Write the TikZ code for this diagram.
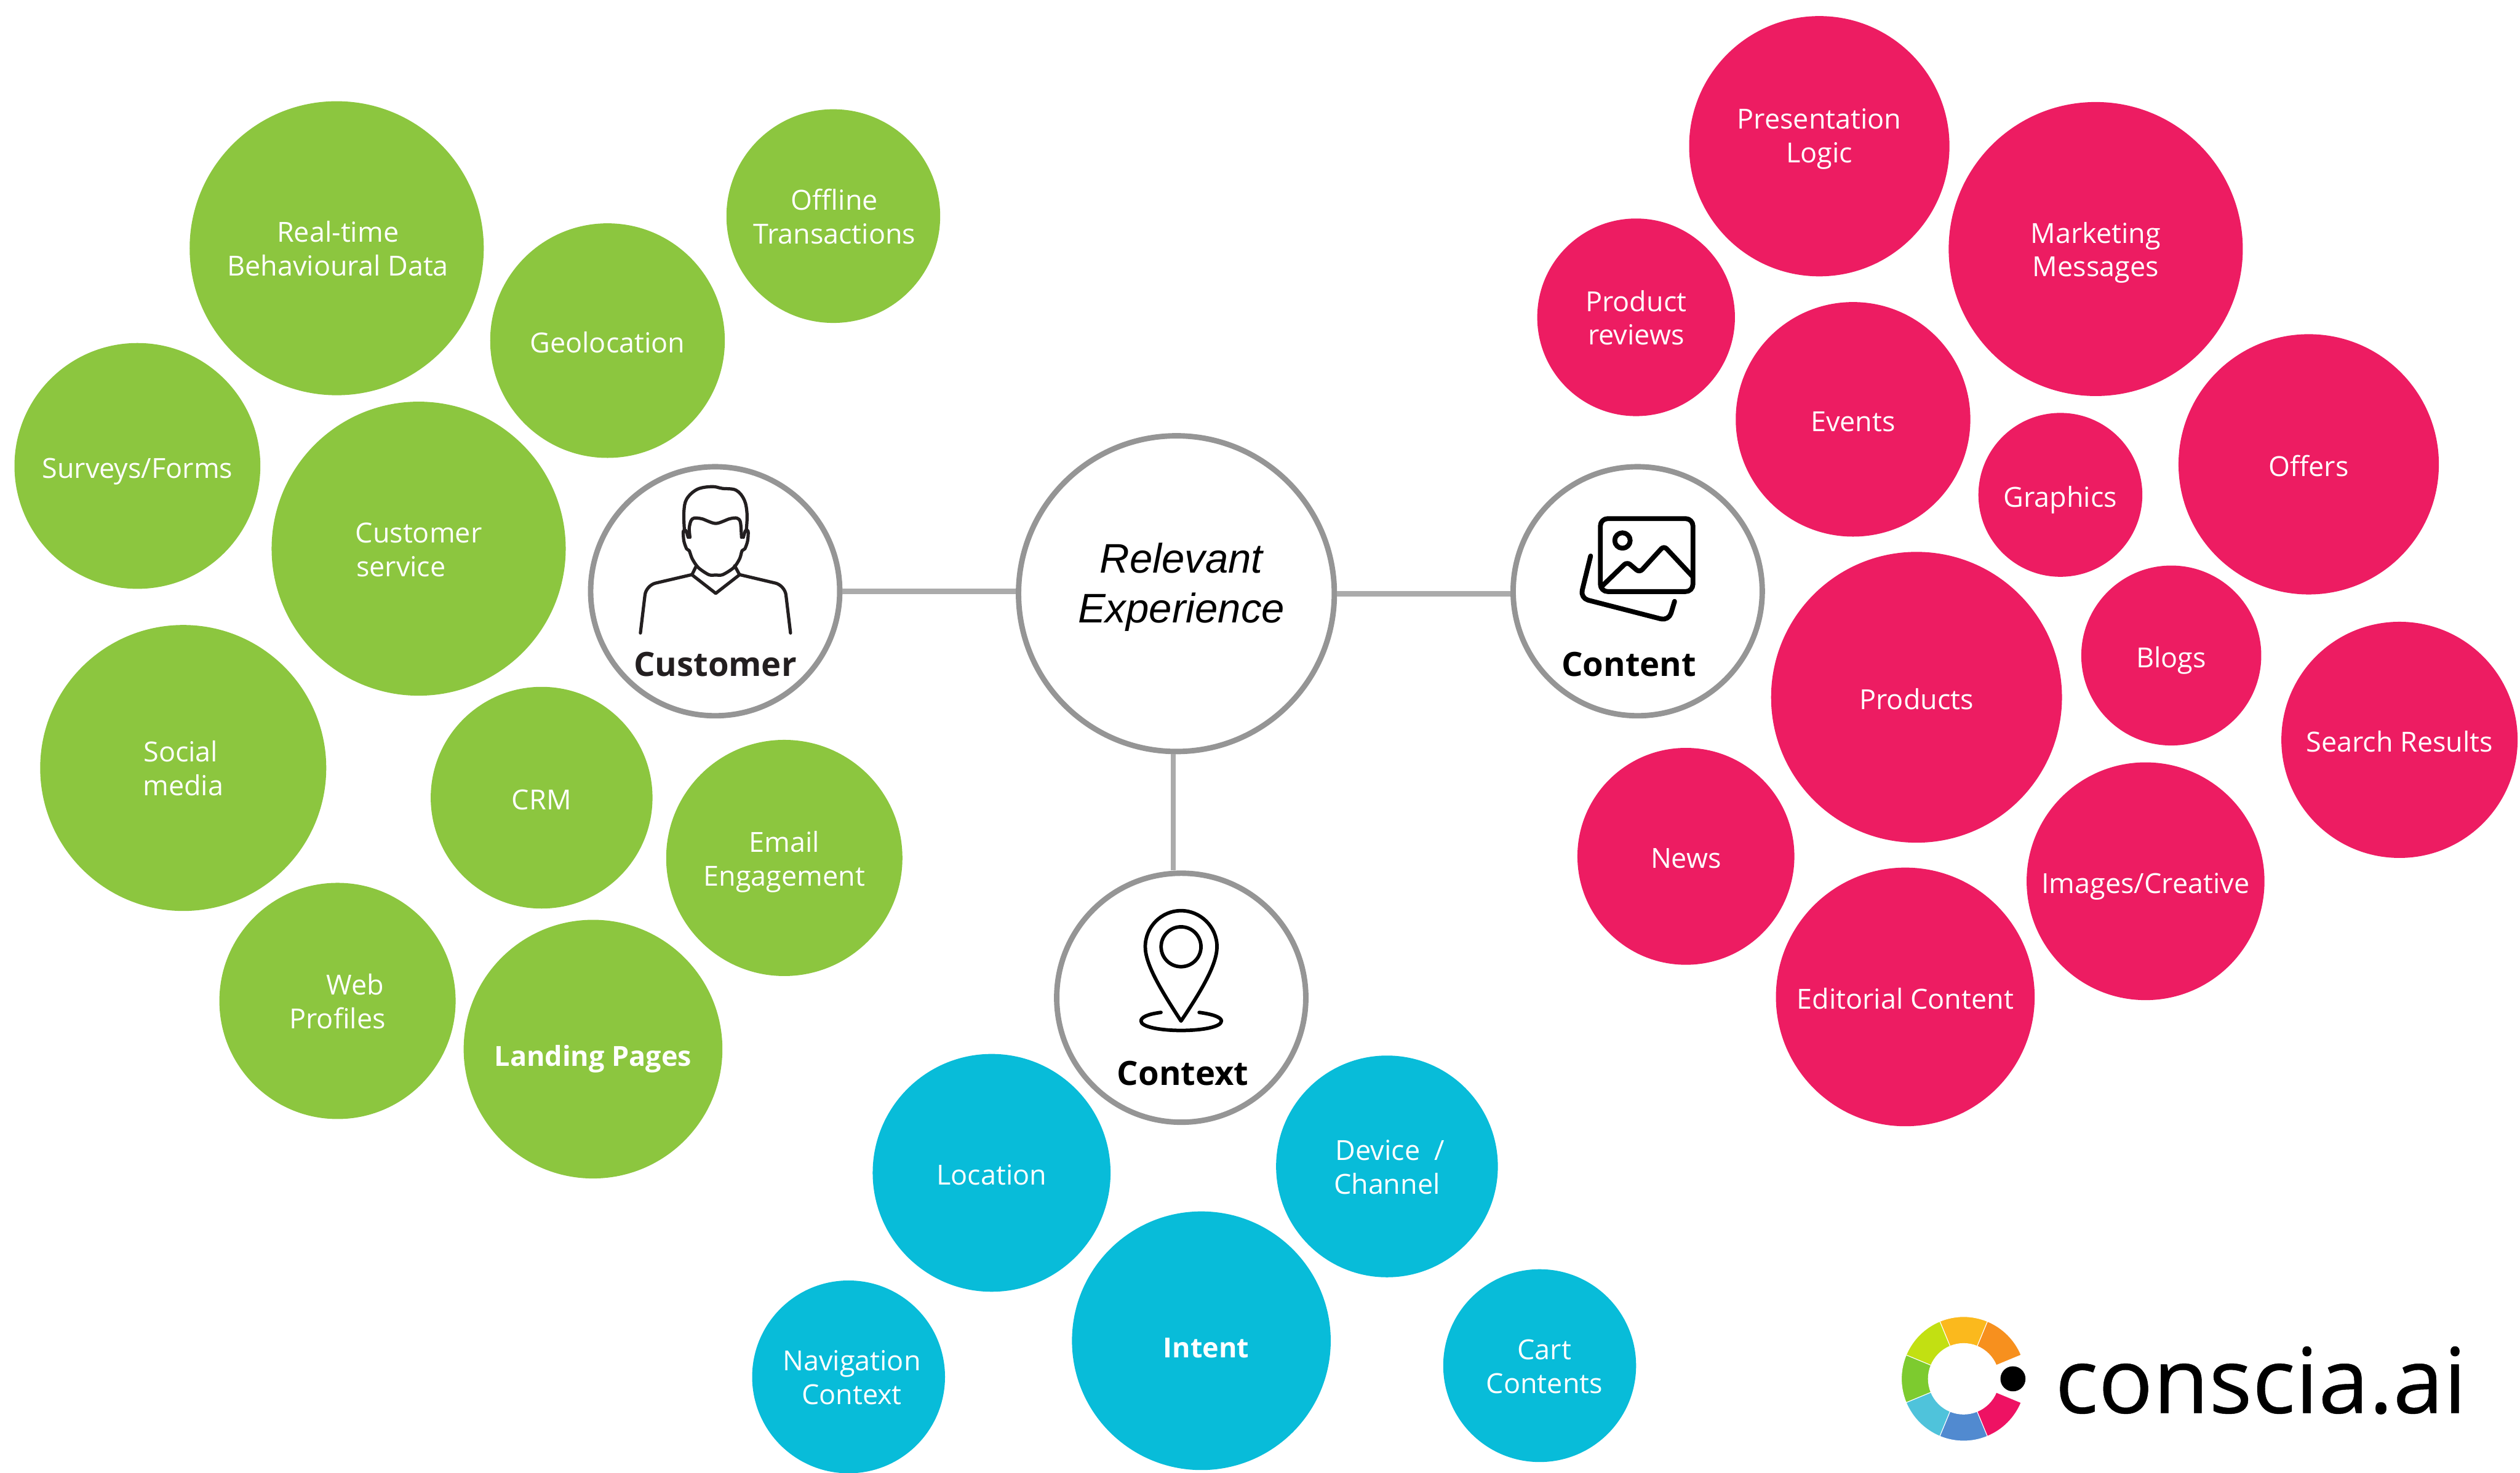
\documentclass[tikz,border=0pt]{standalone}
\usepackage{fontspec}
\setmainfont{Open Sans}
\newfontfamily\arialfont{Liberation Sans}
\newfontfamily\logofont[FakeBold=0.3]{Open Sans}
\definecolor{custgreen}{HTML}{8CC63F}
\definecolor{contred}{HTML}{ED1C62}
\definecolor{ctxblue}{HTML}{08BCD9}
\definecolor{ringgrey}{HTML}{959595}
\definecolor{spokegrey}{HTML}{ABABAB}
\definecolor{iconblack}{HTML}{231F20}
\definecolor{logoorange}{HTML}{F7901E}
\definecolor{logoyellow}{HTML}{FBB91D}
\definecolor{logolime}{HTML}{C2E012}
\definecolor{logogreen}{HTML}{7DCB2F}
\definecolor{logosky}{HTML}{4FC3DB}
\definecolor{logoblue}{HTML}{518AD0}
\definecolor{logopink}{HTML}{EE1263}
\usetikzlibrary{positioning}

\begin{document}
\begin{tikzpicture}[x=1pt, y=-1pt,
  bubble/.style={circle, inner sep=0pt, text=white, align=center, font=\fontsize{17.2}{21}\selectfont,
    text height=15pt, text depth=0pt},
  twolines/.style={text height=34.5pt},
  boldbubble/.style={font=\fontsize{17.2}{21}\bfseries\selectfont},
  greenbubble/.style={bubble, fill=custgreen},
  redbubble/.style={bubble, fill=contred},
  bluebubble/.style={bubble, fill=ctxblue},
  hub/.style={circle, draw=ringgrey, fill=white, line width=3.4pt, inner sep=0pt, minimum size=155pt},
  hublabel/.style={font=\fontsize{20.8}{25}\bfseries\selectfont, anchor=base},
  spoke/.style={draw=spokegrey, line width=3.4pt},
  icon/.style={line width=2pt, line cap=round, line join=round}]

\useasboundingbox (0,0) rectangle (1568,916.5);

% Customer bubbles (green, left side)
\node[greenbubble, twolines, minimum size=183pt] (realtime) at (209.5,154.5) {\hspace*{1.5pt}Real-time\\\hspace*{1.5pt}Behavioural Data};
\node[greenbubble, twolines, minimum size=133pt] (offline) at (518.5,134.5) {\hspace*{1.5pt}Offline\\\hspace*{1.5pt}Transactions};
\node[greenbubble, minimum size=146pt] (geolocation) at (378,212) {Geolocation};
\node[greenbubble, minimum size=153pt] (surveys) at (85.5,290) {Surveys/Forms};
\node[greenbubble, twolines, minimum size=183pt] (custservice) at (260.5,341.5) {Customer\\service\hspace*{22pt}};
\node[greenbubble, twolines, minimum size=178pt] (social) at (114,478) {Social\hspace*{3pt}\\media};
\node[greenbubble, minimum size=138pt] (crm) at (337,496.5) {CRM};
\node[greenbubble, twolines, minimum size=147pt] (email) at (488,534) {Email\\Engagement};
\node[greenbubble, twolines, minimum size=147pt] (webprofiles) at (210,623) {\hspace*{22pt}Web\\Profiles};
\node[greenbubble, boldbubble, text height=21pt, minimum size=161pt] (landing) at (369,653) {Landing Pages};

% Content bubbles (red, right side)
\node[redbubble, minimum size=162pt] (presentation) at (1132,91) {};
\node[redbubble, twolines, minimum size=183pt] (marketing) at (1304,155) {Marketing\\Messages};
\node[redbubble, twolines, minimum size=123pt] (reviews) at (1018,197.5) {Product\\reviews};
\node[redbubble, minimum size=146pt] (events) at (1153,261) {Events};
\node[redbubble, minimum size=102pt] (graphics) at (1282,308) {Graphics};
\node[redbubble, minimum size=162pt] (offers) at (1436.5,289) {Offers};
\node[redbubble, minimum size=181pt] (products) at (1192.5,434) {Products};
\node[redbubble, minimum size=112pt] (blogs) at (1351,408) {Blogs};
\node[redbubble, minimum size=147pt] (search) at (1493,460.5) {Search Results};
\node[redbubble, minimum size=135pt] (news) at (1049,533) {News};
\node[redbubble, minimum size=148pt] (images) at (1335,548.5) {Images/Creative};
\node[redbubble, minimum size=161pt] (editorial) at (1185.5,620.5) {Editorial Content};
\node[bubble, twolines] (presentationtext) at (1132,84) {Presentation\\Logic};

% Context bubbles (blue, bottom)
\node[bluebubble, minimum size=148pt] (location) at (617,730) {Location};
\node[bluebubble, twolines, minimum size=138pt] (device) at (863,726) {\hspace*{4pt}Device~~/\\Channel};
\node[bluebubble, minimum size=161pt] (intent) at (747.5,834.5) {};
\node[bluebubble, twolines, minimum size=120pt] (navigation) at (528,857) {\hspace*{4pt}Navigation\\\hspace*{4pt}Context};
\node[bluebubble, twolines, minimum size=120pt] (cart) at (958,850) {\hspace*{6pt}Cart\\\hspace*{6pt}Contents};
\node[bubble, boldbubble] (intenttext) at (750.5,837.5) {Intent};

% Centre and the three hubs
\node[hub, minimum size=196.5pt] (relevant) at (732,369.5) {};
\node[hub] (customer) at (445,368) {};
\node[hub] (content) at (1019,368) {};
\node[hub] (context) at (735,621) {};

% Spokes
\draw[spoke] (customer.east) -- (customer.east -| relevant.west);
\draw[spoke] (relevant.east) -- (relevant.east -| content.west);
\draw[spoke] ([xshift=-2pt]relevant.south) -- ([xshift=-2pt]relevant.south |- context.north);

% Hub texts
\node[align=center, font=\arialfont\itshape\fontsize{25.7}{31}\selectfont] (relevanttext) at (735,365.5) {Relevant\\Experience};
\node[hublabel, text=iconblack] (customertext) at (445,421) {Customer};
\node[hublabel] (contenttext) at (1013.5,421) {Content};
\node[hublabel] (contexttext) at (736,675.5) {Context};

% Person icon
\begin{scope}[shift={(359.4,282.4)}, x=0.1146pt, y=-0.1107pt, icon, draw=iconblack]
\draw plot[smooth, tension=0.6] coordinates {(580,430) (577,330) (592,255) (650,200) (730,185) (785,195) (860,205) (905,260) (920,340) (916,430)};
\draw plot[smooth, tension=0.5] coordinates {(610,470) (606,420) (615,378) (632,362) (675,366) (750,392) (825,366) (865,362) (884,385) (890,470)};
\draw plot[smooth, tension=0.5] coordinates {(600,470) (588,432) (574,436) (577,490) (592,535) (606,545) (622,590) (655,640) (712,680) (750,682) (788,680) (848,640) (880,590) (893,545) (908,535) (923,490) (926,436) (912,432) (900,470)};
\draw (645,630) -- (622,678) (853,630) -- (878,678);
\draw (620,680) -- (750,785) -- (880,680);
\draw[rounded corners=6pt] (341,1008) -- (372,740) -- (620,680);
\draw[rounded corners=6pt] (1156,1008) -- (1125,740) -- (880,680);
\end{scope}

% Picture icon
\begin{scope}[shift={(930.7,282.4)}, x=0.1107pt, y=-0.1107pt, icon, line width=3pt]
\draw[rounded corners=4.5pt] (588,365) rectangle (1108,775);
\draw (712,488) circle[radius=4.8pt];
\draw[rounded corners=2.5pt] (600,742) -- (738,608) -- (808,668) -- (945,518) -- (1104,688);
\draw[rounded corners=5pt] (533,575) -- (475,812) -- (972,940) -- (1005,830);
\end{scope}

% Pin icon
\begin{scope}[shift={(651.5,539.2)}, x=0.1107pt, y=-0.107pt, icon, line width=2.2pt]
\draw (753,900) .. controls (640,720) and (552,570) .. (552,468) .. controls (552,350) and (645,258) .. (753,258) .. controls (860,258) and (955,350) .. (955,468) .. controls (955,570) and (870,720) .. (753,900) -- cycle;
\draw (753,468) circle[radius=12.4pt];
\draw (640,850) .. controls (565,860) and (528,878) .. (528,900) .. controls (528,935) and (640,955) .. (753,955) .. controls (870,955) and (980,935) .. (980,900) .. controls (980,878) and (930,860) .. (855,850);
\end{scope}

% Logo ring
\begin{scope}[shift={(1221.8,858.2)}, x=1pt, y=1pt, draw=white, line width=0.4pt]
\filldraw[fill=logoorange] (22.5:38.7) arc[start angle=22.5, end angle=67.5, radius=38.7] -- (67.5:22) arc[start angle=67.5, end angle=22.5, radius=22] -- cycle;
\filldraw[fill=logoyellow] (67.5:38.7) arc[start angle=67.5, end angle=112.5, radius=38.7] -- (112.5:22) arc[start angle=112.5, end angle=67.5, radius=22] -- cycle;
\filldraw[fill=logolime] (112.5:38.7) arc[start angle=112.5, end angle=157.5, radius=38.7] -- (157.5:22) arc[start angle=157.5, end angle=112.5, radius=22] -- cycle;
\filldraw[fill=logogreen] (157.5:38.7) arc[start angle=157.5, end angle=202.5, radius=38.7] -- (202.5:22) arc[start angle=202.5, end angle=157.5, radius=22] -- cycle;
\filldraw[fill=logosky] (202.5:38.7) arc[start angle=202.5, end angle=247.5, radius=38.7] -- (247.5:22) arc[start angle=247.5, end angle=202.5, radius=22] -- cycle;
\filldraw[fill=logoblue] (247.5:38.7) arc[start angle=247.5, end angle=292.5, radius=38.7] -- (292.5:22) arc[start angle=292.5, end angle=247.5, radius=22] -- cycle;
\filldraw[fill=logopink] (292.5:38.7) arc[start angle=292.5, end angle=337.5, radius=38.7] -- (337.5:22) arc[start angle=337.5, end angle=292.5, radius=22] -- cycle;
\fill[black] (30.7,0) circle[radius=7.8];
\end{scope}

% Logo text
\node[anchor=base west, inner sep=0pt, font=\logofont\fontsize{56.5}{60}\selectfont] (logotext) at (1278.5,879.5) {conscia.ai};

\end{tikzpicture}
\end{document}
